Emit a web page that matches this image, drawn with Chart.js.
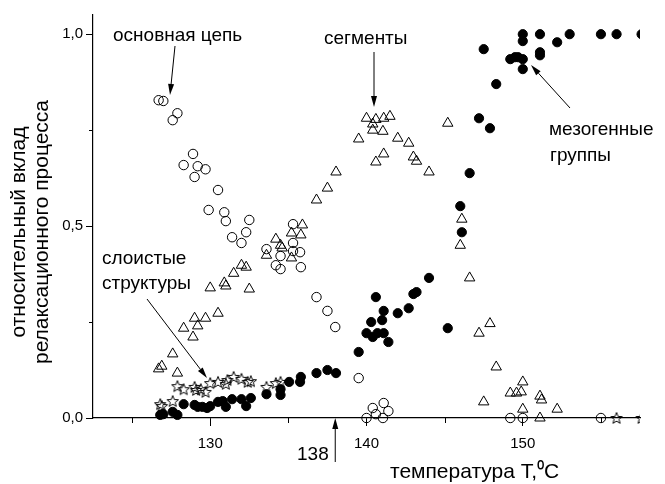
<!DOCTYPE html>
<html>
<head>
<meta charset="utf-8">
<script src="https://cdn.jsdelivr.net/npm/chart.js@4/dist/chart.umd.min.js"></script>
<style>
  html, body { margin: 0; padding: 0; background: #fff; }
  #wrap { width: 665px; height: 484px; }
</style>
</head>
<body>
<div id="wrap"><canvas id="relaxChart" width="665" height="484"></canvas></div>
<script>
// основная цепь (открытые кружки)
const chainX = [126.7, 127.0, 127.9, 127.6, 128.9, 128.3, 129.2, 129.7, 129.0, 130.5, 129.9, 130.9, 131.0, 132.5, 132.3, 131.4, 132.0, 133.6, 134.5, 134.2, 134.5, 135.3, 135.3, 135.3, 135.75, 135.8, 136.8, 137.5, 138.0, 139.5, 140.4, 141.1, 141.4, 140.6, 140.0, 141.05, 149.2, 150.0, 155.0];
const chainY = [0.828, 0.826, 0.794, 0.776, 0.688, 0.659, 0.656, 0.648, 0.628, 0.594, 0.542, 0.536, 0.513, 0.516, 0.484, 0.471, 0.456, 0.440, 0.422, 0.398, 0.388, 0.505, 0.456, 0.435, 0.432, 0.393, 0.315, 0.279, 0.237, 0.104, 0.026, 0.039, 0.018, 0.010, 0.0, 0.0, 0.0, 0.0, 0.0];

// сегменты (треугольники)
const segX = [126.7, 126.9, 127.6, 127.9, 128.3, 128.9, 129.0, 129.2, 129.7, 130.5, 130.0, 130.9, 131.0, 131.5, 132.0, 132.3, 132.5, 133.6, 134.2, 134.5, 134.6, 135.2, 135.2, 135.8, 135.9, 136.8, 137.5, 138.05, 139.5, 140.0, 140.6, 141.1, 141.5, 140.4, 140.4, 141.05, 142.0, 142.7, 141.1, 140.6, 143.0, 143.2, 144.0, 145.2, 146.1, 146.0, 146.6, 147.2, 147.9, 148.3, 147.5, 150.0, 149.2, 149.6, 149.9, 151.1, 151.2, 150.0, 151.1, 152.2];
const segY = [0.128, 0.135, 0.167, 0.117, 0.234, 0.211, 0.260, 0.240, 0.260, 0.273, 0.339, 0.352, 0.344, 0.377, 0.398, 0.393, 0.336, 0.424, 0.466, 0.450, 0.443, 0.482, 0.417, 0.477, 0.503, 0.568, 0.599, 0.641, 0.727, 0.781, 0.778, 0.781, 0.786, 0.766, 0.750, 0.747, 0.729, 0.716, 0.688, 0.667, 0.680, 0.669, 0.641, 0.768, 0.518, 0.450, 0.365, 0.221, 0.246, 0.133, 0.042, 0.094, 0.065, 0.065, 0.068, 0.057, 0.047, 0.023, 0.0, 0.023];

// слоистые структуры (звёздочки)
const layerX = [126.8, 126.9, 127.6, 127.9, 128.3, 129.0, 129.1, 129.4, 129.7, 130.0, 130.5, 131.0, 131.1, 131.5, 132.0, 132.4, 132.6, 133.6, 134.2, 134.5, 156.0, 157.6];
const layerY = [0.036, 0.031, 0.044, 0.083, 0.075, 0.081, 0.073, 0.075, 0.068, 0.091, 0.094, 0.089, 0.099, 0.107, 0.102, 0.094, 0.096, 0.081, 0.091, 0.094, 0.0, 0.0];

// мезогенные группы (заполненные кружки)
const mesoX = [126.8, 127.0, 127.6, 127.9, 128.3, 129.0, 129.2, 129.5, 129.8, 130.0, 130.5, 130.8, 131.0, 131.4, 132.0, 132.3, 132.6, 133.6, 134.5, 134.5, 135.05, 135.8, 135.75, 136.8, 137.5, 138.05, 139.5, 140.0, 140.4, 140.7, 141.1, 141.4, 140.3, 141.0, 141.1, 140.6, 142.0, 142.7, 143.0, 143.2, 144.0, 145.2, 146.1, 146.0, 146.6, 147.2, 147.9, 148.3, 147.5, 149.2, 149.5, 149.7, 150.0, 150.0, 150.0, 150.0, 151.1, 151.1, 151.1, 152.2, 153.0, 155.0, 156.0, 157.6];
const mesoY = [0.008, 0.010, 0.016, 0.008, 0.036, 0.034, 0.029, 0.029, 0.026, 0.031, 0.042, 0.044, 0.029, 0.049, 0.049, 0.031, 0.052, 0.062, 0.075, 0.060, 0.094, 0.107, 0.094, 0.117, 0.125, 0.117, 0.172, 0.221, 0.211, 0.221, 0.221, 0.198, 0.250, 0.255, 0.279, 0.315, 0.273, 0.286, 0.323, 0.328, 0.365, 0.234, 0.484, 0.552, 0.638, 0.781, 0.755, 0.870, 0.961, 0.935, 0.940, 0.940, 0.935, 0.909, 0.982, 1.0, 1.0, 0.953, 0.945, 0.979, 1.0, 1.0, 1.0, 1.0];

// тики осей
const xTicks = [125, 130, 135, 140, 145, 150, 155];
const xLabeled = [130, 140, 150];
const yTicks = [0, 0.25, 0.5, 0.75, 1.0];
const yLabeled = [0, 0.5, 1.0];

const FONT = 'Arial, "Liberation Sans", sans-serif';

function toPoints(xs, ys) {
    return xs.map((x, i) => ({ x: x, y: ys[i] }));
}

// пятиконечная звезда как pointStyle
function makeStar() {
    const c = document.createElement('canvas');
    c.width = 14; c.height = 14;
    const g = c.getContext('2d');
    g.strokeStyle = '#000';
    g.lineWidth = 1;
    g.beginPath();
    for (let i = 0; i < 10; i++) {
        const r = i % 2 === 0 ? 6 : 2.6;
        const a = -Math.PI / 2 + i * Math.PI / 5;
        const px = 7 + r * Math.cos(a), py = 7.5 + r * Math.sin(a);
        if (i === 0) g.moveTo(px, py); else g.lineTo(px, py);
    }
    g.closePath();
    g.stroke();
    return c;
}

// стрелка с залитым наконечником
function arrow(ctx, x1, y1, x2, y2) {
    const ang = Math.atan2(y2 - y1, x2 - x1);
    const len = 11, half = 3;
    ctx.beginPath();
    ctx.moveTo(x1, y1);
    ctx.lineTo(x2 - Math.cos(ang) * len, y2 - Math.sin(ang) * len);
    ctx.stroke();
    ctx.beginPath();
    ctx.moveTo(x2, y2);
    ctx.lineTo(x2 - Math.cos(ang) * len - Math.sin(ang) * half, y2 - Math.sin(ang) * len + Math.cos(ang) * half);
    ctx.lineTo(x2 - Math.cos(ang) * len + Math.sin(ang) * half, y2 - Math.sin(ang) * len - Math.cos(ang) * half);
    ctx.closePath();
    ctx.fill();
}

// подписи, стрелки, малые тики
const annotations = {
    id: 'annotations',
    afterDraw(chart) {
        const ctx = chart.ctx;
        const xs = chart.scales.x, ys = chart.scales.y;
        ctx.save();
        ctx.fillStyle = '#000';
        ctx.strokeStyle = '#000';
        ctx.lineWidth = 1;

        // малые тики
        xTicks.filter(v => !xLabeled.includes(v)).forEach(v => {
            const px = Math.round(xs.getPixelForValue(v)) + 0.5;
            ctx.beginPath(); ctx.moveTo(px, ys.bottom); ctx.lineTo(px, ys.bottom + 5); ctx.stroke();
        });
        yTicks.filter(v => !yLabeled.includes(v)).forEach(v => {
            const py = Math.round(ys.getPixelForValue(v)) + 0.5;
            ctx.beginPath(); ctx.moveTo(xs.left, py); ctx.lineTo(xs.left - 4, py); ctx.stroke();
        });

        // подписи осей
        ctx.font = '21px ' + FONT;
        ctx.textBaseline = 'middle';
        ctx.textAlign = 'left';
        ctx.fillText('температура T,\u2070C', 390, 472);

        ctx.save();
        ctx.font = '21px ' + FONT;
        ctx.textAlign = 'center';
        ctx.translate(19, 232);
        ctx.rotate(-Math.PI / 2);
        ctx.fillText('относительный вклад', 0, 0);
        ctx.fillText('релаксационного процесса', 0, 23);
        ctx.restore();

        // аннотации
        ctx.font = '19px ' + FONT;
        ctx.fillText('основная цепь', 113, 36);
        arrow(ctx, 175, 46, 170, 95);

        ctx.fillText('сегменты', 324, 39);
        arrow(ctx, 374, 52, 374, 107);

        ctx.fillText('мезогенные', 549, 130);
        ctx.fillText('группы', 550, 156);
        arrow(ctx, 570, 108, 531, 65);

        ctx.fillText('слоистые', 102, 259);
        ctx.fillText('структуры', 102, 284);
        arrow(ctx, 147, 299, 207, 378);

        ctx.fillText('138', 297, 455);
        const p138 = xs.getPixelForValue(138);
        arrow(ctx, p138, 462, p138, ys.bottom);

        ctx.restore();
    }
};

const starImg = makeStar();

new Chart(document.getElementById('relaxChart'), {
    type: 'scatter',
    data: {
        datasets: [
            {
                label: 'основная цепь',
                data: toPoints(chainX, chainY),
                pointStyle: 'circle',
                pointRadius: 4.7,
                backgroundColor: 'rgba(0,0,0,0)',
                borderColor: '#000',
                borderWidth: 1
            },
            {
                label: 'сегменты',
                data: toPoints(segX, segY),
                pointStyle: 'triangle',
                pointRadius: 6,
                backgroundColor: 'rgba(0,0,0,0)',
                borderColor: '#000',
                borderWidth: 1
            },
            {
                label: 'слоистые структуры',
                data: toPoints(layerX, layerY),
                pointStyle: starImg,
                backgroundColor: 'rgba(0,0,0,0)',
                borderColor: '#000'
            },
            {
                label: 'мезогенные группы',
                data: toPoints(mesoX, mesoY),
                pointStyle: 'circle',
                pointRadius: 4.6,
                backgroundColor: '#000',
                borderColor: '#000',
                borderWidth: 1
            }
        ]
    },
    options: {
        responsive: false,
        animation: false,
        events: [],
        clip: { left: 8, top: 8, right: 0, bottom: 8 },
        layout: { padding: { left: 0, top: 15, right: 25, bottom: 0 } },
        plugins: { legend: { display: false }, tooltip: { enabled: false } },
        scales: {
            x: {
                type: 'linear',
                min: 122.5,
                max: 157.5,
                afterBuildTicks: s => { s.ticks = xTicks.map(v => ({ value: v })); },
                afterFit: s => { s.height = 66; },
                border: { display: true, color: '#000', width: 1.2 },
                grid: {
                    drawOnChartArea: false,
                    drawTicks: true,
                    tickLength: 8,
                    tickColor: c => (c.tick && xLabeled.includes(c.tick.value)) ? '#000' : 'rgba(0,0,0,0)'
                },
                ticks: {
                    color: '#000',
                    padding: 9,
                    maxRotation: 0,
                    autoSkip: false,
                    font: { family: FONT, size: 15 },
                    callback: v => xLabeled.includes(v) ? String(v) : ''
                }
            },
            y: {
                type: 'linear',
                min: 0,
                max: 1.05,
                afterBuildTicks: s => { s.ticks = yTicks.map(v => ({ value: v })); },
                afterFit: s => { s.width = 93; },
                border: { display: true, color: '#000', width: 1.2 },
                grid: {
                    drawOnChartArea: false,
                    drawTicks: true,
                    tickLength: 7,
                    tickColor: c => (c.tick && yLabeled.includes(c.tick.value)) ? '#000' : 'rgba(0,0,0,0)'
                },
                ticks: {
                    color: '#000',
                    padding: 3,
                    autoSkip: false,
                    font: { family: FONT, size: 15 },
                    callback: v => yLabeled.includes(v) ? v.toFixed(1).replace('.', ',') : ''
                }
            }
        }
    },
    plugins: [annotations]
});
</script>
</body>
</html>
